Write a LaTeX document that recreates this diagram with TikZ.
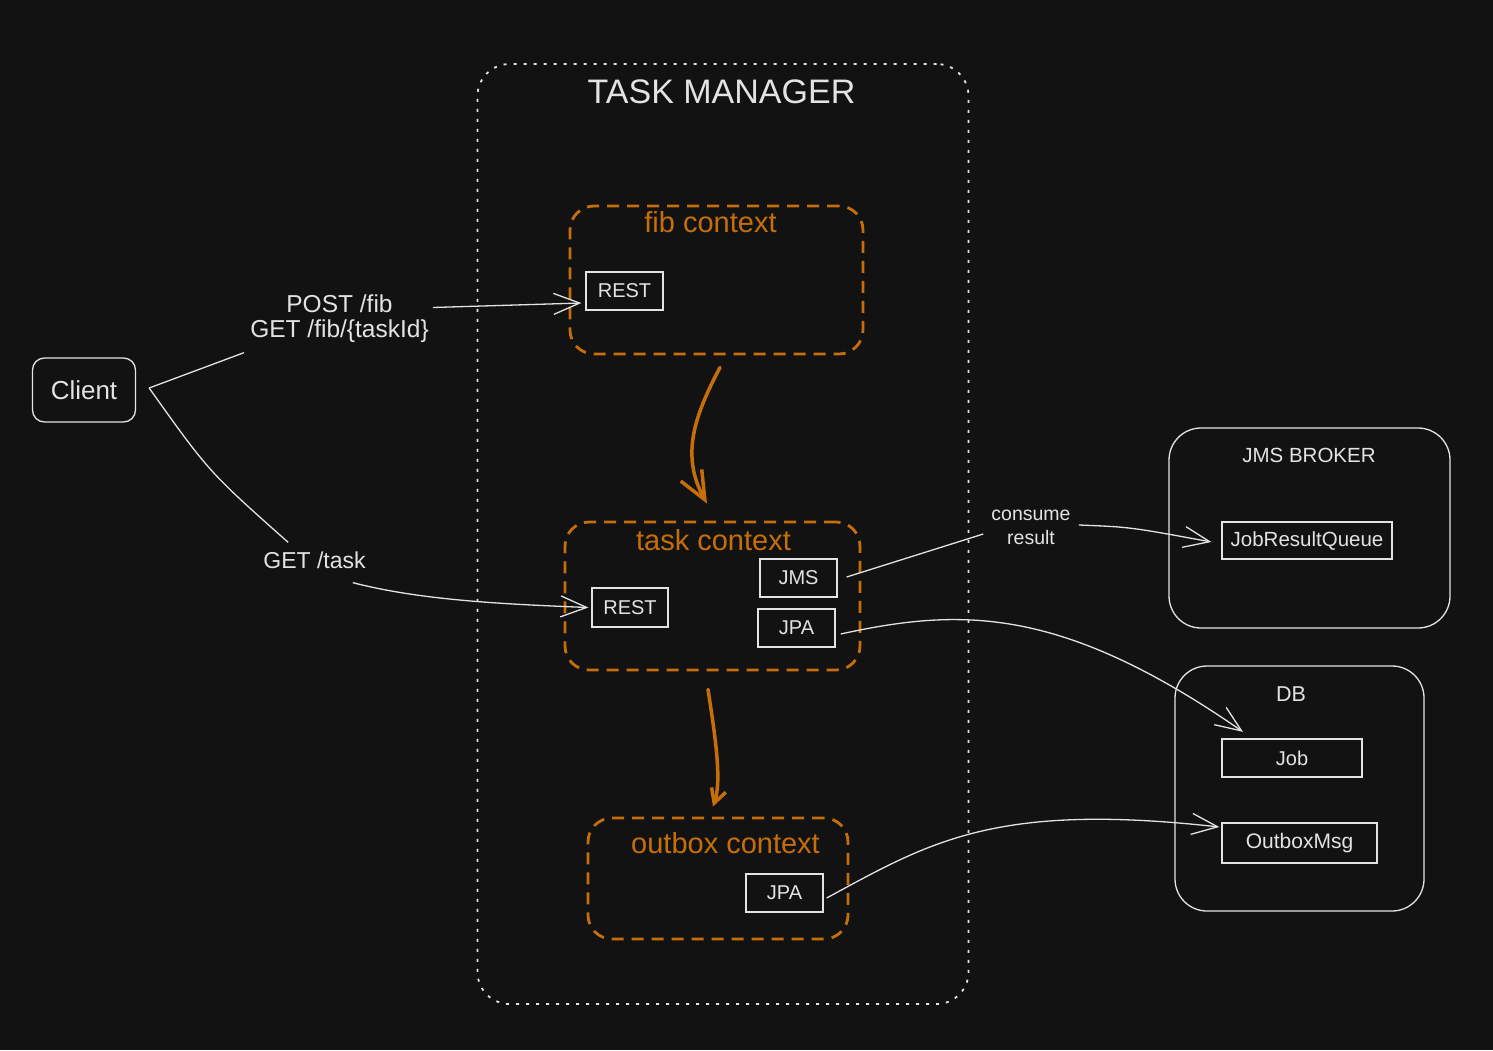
\documentclass[tikz,border=0pt]{standalone}
\usepackage{fontspec}
\setmainfont{Liberation Sans}
\usetikzlibrary{arrows.meta,calc}
\definecolor{bg}{HTML}{121212}
\definecolor{ink}{HTML}{E3E3E3}
\definecolor{org}{HTML}{C66E0A}
\begin{document}
\begin{tikzpicture}[x=1pt,y=-1pt,
  txt/.style={text=ink, inner sep=0pt, align=center, font=\fontsize{20}{24}\selectfont},
  edgelbl/.style={txt, font=\fontsize{23}{25}\selectfont},
  box/.style={draw=ink, line width=1.3pt, text=ink, inner sep=0pt, font=\fontsize{20}{24}\selectfont},
  ctxbox/.style={draw=org, line width=2.8pt, dash pattern=on 12pt off 8pt, rounded corners=24pt, inner sep=0pt},
  ctxlbl/.style={text=org, inner sep=0pt, font=\fontsize{29}{32}\selectfont},
  group/.style={draw=ink, line width=1.3pt, rounded corners=32pt, inner sep=0pt},
  arr/.style={draw=ink, line width=1.3pt, -{Straight Barb[length=26pt,width=21pt,line width=1.3pt]}},
  line/.style={draw=ink, line width=1.3pt},
  oarr/.style={draw=org, line width=3.5pt, line cap=round}
]
\fill[bg] (0,0) rectangle (1493,1050);
\useasboundingbox (0,0) rectangle (1493,1050);

% containers
\node[draw=ink, line width=1.8pt, dash pattern=on 3pt off 7pt, rounded corners=32pt,
      minimum width=491pt, minimum height=940pt, inner sep=0pt] (tm) at (723,534) {};
\node[txt, font=\fontsize{34}{36}\selectfont] (tmtitle) at (721.5,91.5) {TASK MANAGER};

\node[ctxbox, minimum width=293pt, minimum height=148pt] (fibctx) at (716.5,280) {};
\node[ctxlbl] (fiblbl) at (710.5,222) {fib context};
\node[box, minimum width=77pt, minimum height=38pt] (restfib) at (624.5,291) {REST};

\node[ctxbox, minimum width=295pt, minimum height=148pt] (taskctx) at (712.5,596) {};
\node[ctxlbl] (tasklbl) at (713.5,540) {task context};
\node[box, minimum width=76pt, minimum height=39pt] (resttask) at (630,607.5) {REST};
\node[box, minimum width=77pt, minimum height=38pt] (jms) at (798.5,578) {JMS};
\node[box, minimum width=77pt, minimum height=38pt] (jpa) at (796.5,628) {JPA};

\node[ctxbox, minimum width=260pt, minimum height=121pt] (outbox) at (718,878.5) {};
\node[ctxlbl] (outlbl) at (725.5,843) {outbox context};
\node[box, minimum width=77pt, minimum height=38pt] (jpao) at (784.5,893) {JPA};

\node[box, rounded corners=12pt, minimum width=103pt, minimum height=64pt,
      font=\fontsize{26}{28}\selectfont] (client) at (84,390) {Client};

\node[group, minimum width=281pt, minimum height=200pt] (jmsb) at (1309.5,528) {};
\node[txt, font=\fontsize{20.5}{24}\selectfont] (jmsblbl) at (1309,455) {JMS BROKER};
\node[box, minimum width=170pt, minimum height=37pt, font=\fontsize{20.5}{24}\selectfont] (jrq) at (1307,540.5) {JobResultQueue};

\node[group, minimum width=249pt, minimum height=245pt] (db) at (1299.5,788.5) {};
\node[txt, font=\fontsize{21.5}{24}\selectfont] (dblbl) at (1291,694) {DB};
\node[box, minimum width=140pt, minimum height=38pt] (job) at (1292,758) {Job};
\node[box, minimum width=155pt, minimum height=40pt, font=\fontsize{21}{24}\selectfont] (om) at (1299.5,843) {OutboxMsg};

% edge labels
\node[edgelbl, font=\fontsize{24.5}{25}\selectfont] (lblA) at (339.5,318.5) {POST /fib\\GET /fib/\{taskId\}};
\node[edgelbl] (lblB) at (314.5,560) {GET /task};
\node[txt, font=\fontsize{19.5}{24}\selectfont] (lblC) at (1031,527.5) {consume\\result};

% white connectors
\draw[line] ($(client.east)+(13,-2)$) -- ($(lblA.south west)+(-6,10)$);
\draw[arr] ($(lblA.east)+(4,-11)$) -- ($(restfib.west)+(-4,12)$);

\draw[line] ($(client.east)+(13,-2)$) .. controls (209,472) .. ($(lblB.north west)+(25,-9)$);
\draw[arr] ($(lblB.south east)+(-13,14)$) .. controls (420,600) and (500,604) .. ($(resttask.west)+(-3,0)$);

\draw[line] ($(jms.east)+(9,-1)$) -- ($(lblC.west)+(-8,6.5)$);
\draw[arr] ($(lblC.east)+(8,-2.5)$) .. controls (1130,527) .. ($(jrq.west)+(-10,1.5)$);

\draw[arr] ($(jpa.east)+(5,6)$) .. controls (960,608) and (1060,605) .. ($(job.north)+(-49,-6.5)$);
\draw[arr] ($(jpao.east)+(3,5)$) .. controls (930,842) and (995,802) .. ($(om.west)+(-2,-16)$);

% orange connectors
\draw[oarr, -{Straight Barb[length=28pt,width=24pt,line width=3.5pt]}]
  ($(fibctx.south)+(3.5,12)$) .. controls (695,415) and (680,455) .. ($(taskctx.north)+(-5.5,-17)$);
\draw[oarr, -{Straight Barb[length=14pt,width=15pt,line width=3.5pt]}]
  ($(taskctx.south)+(-4.5,18)$) .. controls (715,735) and (722,780) .. ($(outbox.north)+(-5,-10)$);
\end{tikzpicture}
\end{document}
